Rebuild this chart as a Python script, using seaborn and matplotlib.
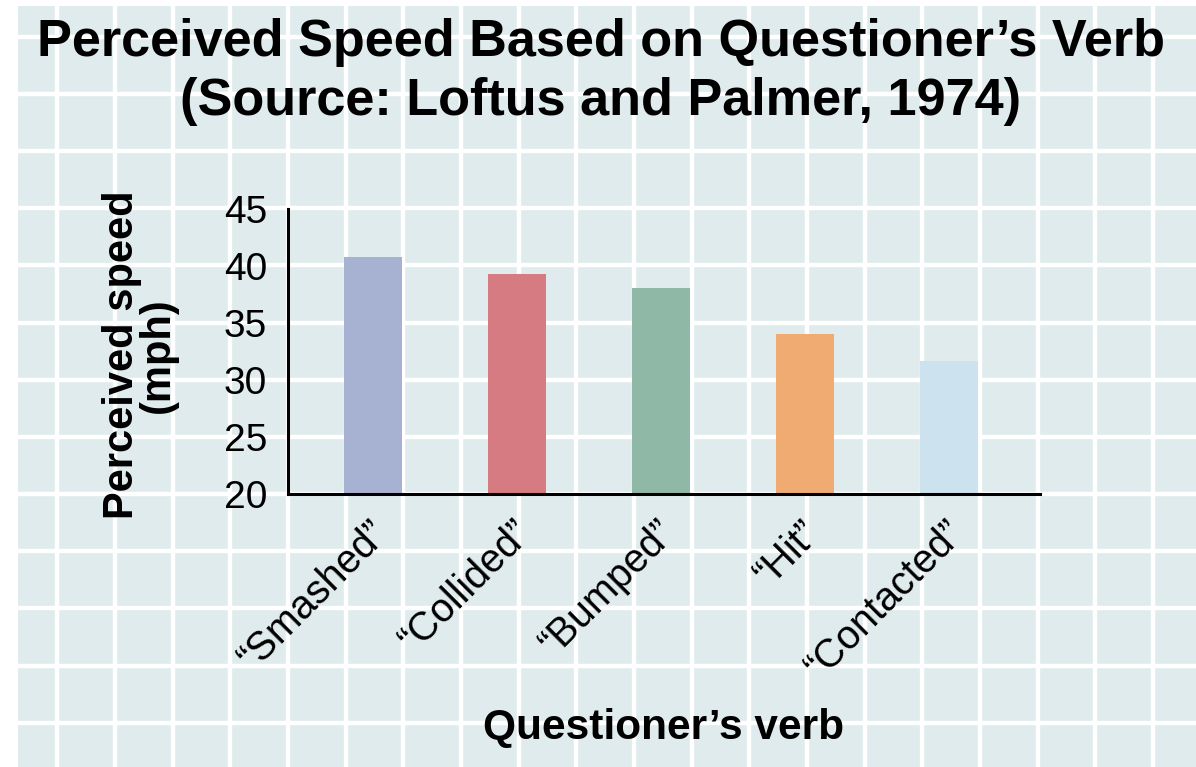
import numpy as np
import pandas as pd
import matplotlib.pyplot as plt
import matplotlib.transforms as mtransforms
from matplotlib import font_manager
import seaborn as sns

# data
verbs = ['\u201cSmashed\u201d', '\u201cCollided\u201d', '\u201cBumped\u201d', '\u201cHit\u201d', '\u201cContacted\u201d']
speeds = [40.8, 39.3, 38.1, 34.0, 31.7]
bar_colors = ['#a7b1d1', '#d57b81', '#8fb9a6', '#f0ab72', '#cde2ef']
yticks = [20, 25, 30, 35, 40, 45]

sns.set_style('white')
plt.rcParams['font.family'] = ['Liberation Sans', 'DejaVu Sans']
plt.rcParams['text.color'] = 'black'
plt.rcParams['xtick.color'] = 'black'
plt.rcParams['ytick.color'] = 'black'

# the verb labels look condensed; use the narrow face when it is there
installed = {f.name for f in font_manager.fontManager.ttflist}
if 'Liberation Sans Narrow' in installed:
    verb_font, verb_size = 'Liberation Sans Narrow', 31
else:
    verb_font, verb_size = 'Liberation Sans', 28.5

W, H = 1196, 767
fig = plt.figure(figsize=(W / 100, H / 100), dpi=100)
fig.patch.set_facecolor('white')

# graph-paper background (pixel coordinates)
bg = fig.add_axes([18 / W, 0, 1 - 18 / W, 1 - 6 / H], zorder=0)
bg.set_facecolor('#dfebec')
bg.set_xlim(18, W)
bg.set_ylim(H, 6)
bg.set_xticks(np.arange(57.4, W, 57.66))
bg.set_yticks(np.arange(36.7, H, 57.17))
bg.grid(True, color='white', linewidth=3.2)
bg.tick_params(length=0, labelbottom=False, labelleft=False)
for s in bg.spines.values():
    s.set_visible(False)

# main chart
ax = fig.add_axes([288 / W, 1 - 494 / H, (1040 - 288) / W, (494 - 209) / H], zorder=1)
ax.patch.set_alpha(0)
df = pd.DataFrame({'verb': verbs, 'speed': speeds})
sns.barplot(data=df, x='verb', y='speed', hue='verb', palette=bar_colors,
            width=0.4, saturation=1, legend=False, linewidth=0, ax=ax)

ax.set_ylim(20, 45)
ax.set_yticks(yticks)
ax.set_xlim(-0.59, 4.63)
ax.set_xlabel('')
ax.set_ylabel('')
ax.grid(False)
ax.tick_params(axis='y', length=0, labelsize=28, pad=15)
ax.tick_params(axis='x', length=0, pad=14)
shift = mtransforms.ScaledTranslation(0.22, 0, fig.dpi_scale_trans)
for lab in ax.get_xticklabels():
    lab.set_rotation(45)
    lab.set_ha('right')
    lab.set_family([verb_font, 'DejaVu Sans'])
    lab.set_fontsize(verb_size)
    lab.set_transform(lab.get_transform() + shift)
for side in ['top', 'right']:
    ax.spines[side].set_visible(False)
for side in ['left', 'bottom']:
    ax.spines[side].set_color('black')
    ax.spines[side].set_linewidth(2.2)

fig.text(601 / W, 1 - 72 / H, 'Perceived Speed Based on Questioner\u2019s Verb\n(Source: Loftus and Palmer, 1974)',
         ha='center', va='center', fontsize=37.6, fontweight='bold', linespacing=1.28)
fig.text(140 / W, 1 - 355 / H, 'Perceived speed\n(mph)', rotation=90, ha='center', va='center',
         fontsize=30, fontweight='bold', linespacing=0.88)
fig.text(664 / W, 1 - 728 / H, 'Questioner\u2019s verb', ha='center', va='center',
         fontsize=30.5, fontweight='bold')

fig.savefig('out.png', dpi=100)
